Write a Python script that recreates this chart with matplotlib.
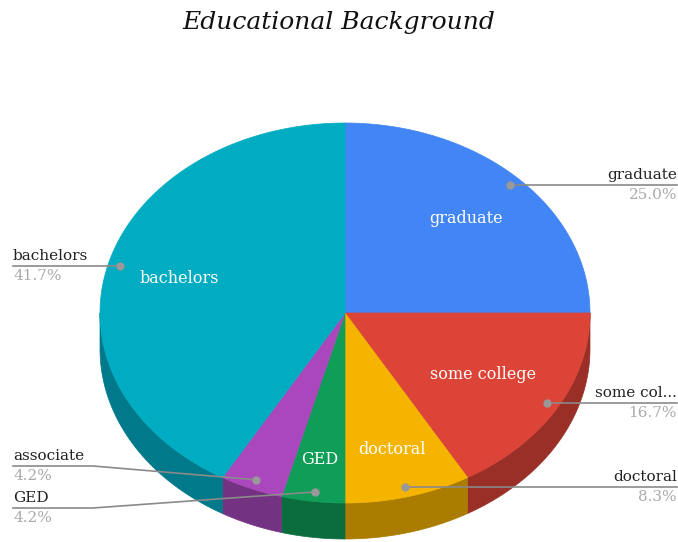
# Educational background - 3D style pie

import matplotlib.pyplot as plt
import numpy as np
from matplotlib.patches import Polygon

labels = ['graduate', 'some college', 'doctoral', 'GED', 'associate', 'bachelors']
short_labels = ['graduate', 'some col...', 'doctoral', 'GED', 'associate', 'bachelors']
counts = [6, 4, 2, 1, 1, 10]
top_colors = ['#4285F4', '#DB4437', '#F4B400', '#0F9D58', '#AB47BC', '#00ACC1']
side_colors = ['#2E5DAA', '#992F27', '#AA7D00', '#0B6D3D', '#743282', '#00798A']
inside = [True, True, True, True, False, True]
# how far out the inner label sits (fraction of radius)
label_r = [0.7, 0.65, 0.745, 0.78, 0.7, 0.7]

# geometry in pixels
W, H = 678, 542
cx, cy, rx, ry, depth = 345, 313, 245, 190, 36
serif = 'DejaVu Serif'


def pt(t, r=1.0):
    t = np.radians(t)
    return cx + rx * r * np.cos(t), cy - ry * r * np.sin(t)


fig = plt.figure(figsize=(W / 100, H / 100), dpi=100)
ax = fig.add_axes([0, 0, 1, 1])
ax.set_xlim(0, W)
ax.set_ylim(H, 0)
ax.axis('off')

total = sum(counts)
angles = []
start = 90.0
for c in counts:
    end = start - 360.0 * c / total
    angles.append((start, end))
    start = end

# side walls (front half only)
for (a1, a2), col in zip(angles, side_colors):
    lo, hi = max(a2, -180), min(a1, 0)
    if hi <= lo:
        continue
    ts = np.linspace(hi, lo, 60)
    xs, ys = pt(ts)
    poly = list(zip(xs, ys)) + list(zip(xs[::-1], ys[::-1] + depth))
    ax.add_patch(Polygon(poly, closed=True, fc=col, ec=col, lw=0.5))

# top faces
for (a1, a2), col in zip(angles, top_colors):
    ts = np.linspace(a1, a2, 120)
    xs, ys = pt(ts)
    poly = [(cx, cy)] + list(zip(xs, ys))
    ax.add_patch(Polygon(poly, closed=True, fc=col, ec=col, lw=0.5))

# labels inside slices
for (a1, a2), lab, ins, r in zip(angles, labels, inside, label_r):
    if not ins:
        continue
    x, y = pt((a1 + a2) / 2, r)
    ax.text(x, y, lab, color='white', fontsize=11.5, family=serif,
            ha='center', va='center')

# outside labels with leader lines
line_col = '#8a8a8a'
left_y = {'associate': 466, 'GED': 508}
for (a1, a2), lab, short, c in zip(angles, labels, short_labels, counts):
    mid = (a1 + a2) / 2
    dx, dy = pt(mid, 0.95)
    pct = '%.1f%%' % (100.0 * c / total)
    if dx > cx:
        ax.plot([dx, W - 1], [dy, dy], color=line_col, lw=1.2)
        tx, ha, ly = W - 1, 'right', dy
    else:
        ly = left_y.get(lab, dy)
        if ly == dy:
            ax.plot([13, dx], [ly, dy], color=line_col, lw=1.2)
        else:
            ax.plot([13, 93, dx], [ly, ly, dy], color=line_col, lw=1.2)
        tx, ha = 13, 'left'
    ax.plot(dx, dy, 'o', color='#999999', ms=5)
    ax.text(tx, ly - 3, short, color='#222222', fontsize=11, family=serif,
            ha=ha, va='bottom')
    ax.text(tx, ly + 3, pct, color='#aaaaaa', fontsize=11, family=serif,
            ha=ha, va='top')

ax.text(W / 2, 22, 'Educational Background', fontsize=18, family=serif,
        style='italic', color='#111111', ha='center', va='center')

fig.savefig('out.png', dpi=100)
